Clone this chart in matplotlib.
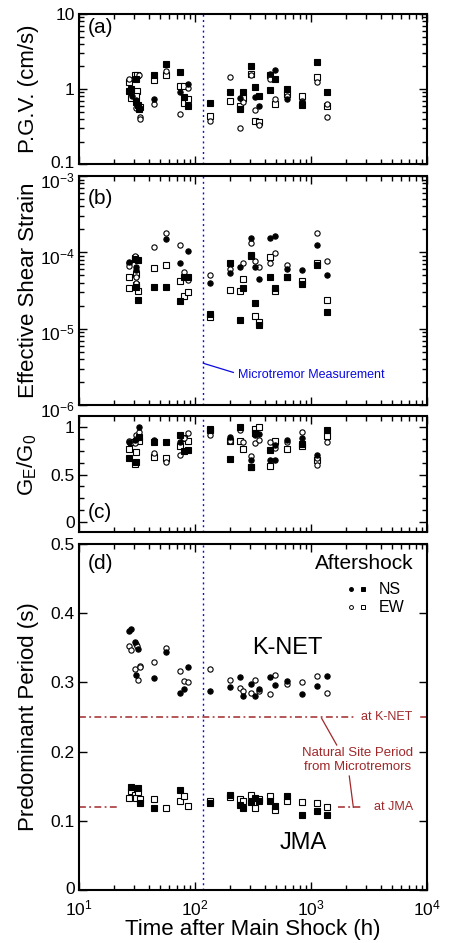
import numpy as np
import matplotlib
matplotlib.use("Agg")
import matplotlib.pyplot as plt
import matplotlib.transforms as mtransforms
from matplotlib.ticker import LogLocator, MultipleLocator, FixedLocator, NullFormatter, NullLocator

plt.rcParams['font.family'] = ['Liberation Sans', 'DejaVu Sans']
plt.rcParams['mathtext.fontset'] = 'custom'
plt.rcParams['mathtext.rm'] = 'Liberation Sans'
plt.rcParams['mathtext.it'] = 'Liberation Sans:italic'
plt.rcParams['mathtext.default'] = 'regular'

# (time after main shock [h], value)
# panel (a) P.G.V. (cm/s)
pgv_knet_ns = [(28.9, 0.81), (31.3, 0.72), (44.1, 0.73), (73.8, 0.91), (87.7, 1.18),
               (245, 0.77), (330, 0.78), (357, 0.60), (444, 1.60), (487, 1.81),
               (618, 0.73), (842, 0.68)]
pgv_knet_ew = [(27.1, 1.36), (32.9, 1.52), (30.9, 0.56), (33.5, 0.42), (33.5, 0.40),
               (44.1, 0.63), (56.7, 1.76), (73.8, 0.46), (87.7, 1.03), (134.6, 0.38),
               (198.6, 1.45), (245, 0.30), (260, 0.67), (303, 1.52), (330, 0.53),
               (357, 0.33), (444, 1.38), (487, 0.73), (618, 0.81), (842, 0.70),
               (1126, 1.23), (1373, 0.63), (1373, 0.43)]
pgv_jma_ns = [(27.1, 0.95), (28.0, 1.01), (30.9, 1.38), (31.3, 0.68), (32.4, 0.62),
              (33.0, 0.55), (44.1, 1.56), (56.7, 2.18), (73.8, 1.69), (80.4, 0.78),
              (87.7, 0.60), (134.6, 0.65), (198.6, 0.91), (245, 0.55), (260, 0.90),
              (303, 2.05), (330, 1.08), (357, 0.81), (444, 0.96), (487, 1.38),
              (618, 1.01), (842, 0.62), (1126, 2.28), (1373, 0.91)]
pgv_jma_ew = [(27.1, 1.23), (28.0, 0.76), (30.3, 1.52), (31.9, 1.52), (31.9, 0.93),
              (31.3, 0.80), (33.5, 0.57), (44.1, 1.31), (56.7, 1.56), (73.8, 1.11),
              (80.4, 0.65), (80.4, 1.10), (87.7, 0.73), (134.6, 0.44), (198.6, 0.70),
              (245, 0.60), (260, 0.76), (303, 1.59), (330, 0.38), (357, 0.36),
              (444, 1.52), (487, 0.63), (618, 0.86), (842, 0.82), (1126, 1.43),
              (1373, 0.59)]

# panel (b) effective shear strain (x 1e-4)
strain_knet_ns = [(27.1, 0.74), (31.3, 0.65), (31.3, 0.58), (56.7, 1.49), (73.8, 0.72),
                  (87.7, 1.03), (134.6, 0.40), (198.6, 0.54), (245, 0.64), (303, 1.53),
                  (330, 0.64), (357, 0.45), (444, 1.52), (487, 1.63), (618, 0.61),
                  (842, 0.58), (1126, 1.26), (1373, 0.51)]
strain_knet_ew = [(27.1, 0.72), (27.1, 0.67), (30.3, 0.91), (31.3, 0.48), (31.3, 0.40),
                  (44.1, 1.16), (56.7, 1.78), (73.8, 1.26), (80.4, 0.55), (87.7, 0.44),
                  (134.6, 0.50), (198.6, 0.61), (260, 0.72), (303, 1.31), (330, 0.78),
                  (357, 0.65), (444, 0.73), (487, 0.98), (618, 0.69), (1126, 1.81),
                  (1373, 0.76)]
strain_jma_ns = [(30.3, 0.81), (32.4, 0.80), (31.3, 0.35), (32.4, 0.24), (44.1, 0.35),
                 (56.7, 0.35), (73.8, 0.23), (80.4, 0.48), (87.7, 0.48), (134.6, 0.157),
                 (198.6, 0.73), (245, 0.13), (260, 0.34), (303, 0.91), (330, 0.215),
                 (357, 0.112), (444, 0.48), (487, 0.34), (618, 0.47), (842, 0.38),
                 (1126, 0.69), (1373, 0.165)]
strain_jma_ew = [(27.1, 0.48), (27.1, 0.34), (30.3, 0.84), (31.3, 0.52), (31.3, 0.37),
                 (32.4, 0.31), (44.1, 0.63), (56.7, 0.68), (73.8, 0.42), (80.4, 0.27),
                 (87.7, 0.30), (134.6, 0.142), (198.6, 0.32), (245, 0.31), (260, 0.45),
                 (303, 0.92), (330, 0.147), (357, 0.124), (444, 0.86), (487, 0.31),
                 (618, 0.48), (842, 0.42), (1126, 0.72), (1373, 0.24)]

# panel (c) G_E/G_0
ratio_knet_ns = [(27.1, 0.85), (30.3, 0.87), (33.0, 1.0), (44.1, 0.87), (73.8, 0.84),
                 (198.6, 0.90), (303, 0.65), (330, 0.92), (357, 0.93), (444, 0.65),
                 (487, 0.81), (487, 0.65), (618, 0.87), (842, 0.89), (1126, 0.71)]
ratio_knet_ew = [(27.1, 0.86), (30.3, 0.63), (30.3, 0.83), (31.3, 0.92), (31.3, 0.88),
                 (33.0, 0.95), (44.1, 0.73), (56.7, 0.63), (73.8, 0.71), (80.4, 0.89),
                 (87.7, 0.94), (134.6, 0.92), (198.6, 0.86), (245, 0.97), (260, 0.85),
                 (303, 0.70), (330, 0.83), (357, 0.87), (444, 0.84), (487, 0.78),
                 (618, 0.84), (842, 0.95), (1126, 0.68), (1126, 0.60), (1373, 0.84)]
ratio_jma_ns = [(27.1, 0.68), (31.3, 0.63), (33.0, 0.90), (44.1, 0.84), (56.7, 0.84),
                (73.8, 0.92), (80.4, 0.75), (87.7, 0.76), (134.6, 0.97), (198.6, 0.66),
                (245, 1.0), (303, 0.58), (330, 0.94), (444, 0.76), (842, 0.82),
                (1373, 0.97)]
ratio_jma_ew = [(27.1, 0.77), (28.0, 0.85), (30.3, 0.61), (31.3, 0.74), (33.0, 0.855),
                (44.1, 0.69), (56.7, 0.68), (73.8, 0.80), (80.4, 0.89), (87.7, 0.86),
                (134.6, 0.98), (198.6, 0.855), (245, 0.86), (260, 0.77), (303, 0.58),
                (330, 0.98), (357, 1.0), (444, 0.59), (487, 0.86), (618, 0.77),
                (842, 0.80), (1126, 0.65), (1373, 0.91)]

# panel (d) predominant period (s)
period_knet_ns = [(27.1, 0.3745), (27.8, 0.377), (30.3, 0.358), (31.3, 0.311), (32.4, 0.349),
                  (44.1, 0.306), (56.7, 0.344), (73.8, 0.285), (80.4, 0.290), (87.7, 0.322),
                  (134.6, 0.287), (198.6, 0.293), (245, 0.308), (260, 0.280), (303, 0.297),
                  (330, 0.281), (357, 0.290), (444, 0.308), (487, 0.296), (618, 0.302),
                  (842, 0.283), (1126, 0.295), (1373, 0.309)]
period_knet_ew = [(27.1, 0.353), (27.8, 0.347), (30.3, 0.319), (31.3, 0.355), (31.9, 0.353),
                  (32.4, 0.304), (33.5, 0.323), (33.5, 0.322), (44.1, 0.329), (56.7, 0.350),
                  (73.8, 0.317), (80.4, 0.302), (87.7, 0.301), (134.6, 0.320), (198.6, 0.303),
                  (245, 0.292), (260, 0.287), (303, 0.284), (330, 0.304), (357, 0.287),
                  (444, 0.283), (487, 0.311), (618, 0.298), (842, 0.301), (1126, 0.309),
                  (1373, 0.284)]
period_jma_ns = [(27.8, 0.1495), (32.4, 0.1476), (33.5, 0.126), (44.1, 0.118), (73.8, 0.145),
                 (134.6, 0.1255), (198.6, 0.138), (245, 0.1235), (260, 0.119), (303, 0.127),
                 (330, 0.133), (357, 0.129), (444, 0.129), (487, 0.1207), (618, 0.1365),
                 (842, 0.109), (1126, 0.114), (1373, 0.1086)]
period_jma_ew = [(27.1, 0.1327), (27.8, 0.1437), (30.3, 0.1375), (30.9, 0.1336), (32.4, 0.1413),
                 (33.5, 0.1317), (44.1, 0.132), (56.7, 0.118), (73.8, 0.128), (80.4, 0.1356),
                 (87.7, 0.121), (134.6, 0.129), (198.6, 0.135), (245, 0.132), (260, 0.129),
                 (303, 0.138), (330, 0.118), (357, 0.132), (444, 0.1365), (487, 0.115),
                 (618, 0.129), (842, 0.127), (1126, 0.1255), (1373, 0.120)]

t_microtremor = 118          # time of microtremor measurement (h)
site_period_knet = 0.25
site_period_jma = 0.12

red = '#a0282a'
blue = '#0a0ae0'
dashdot = (0, (4.5, 2.2, 1.2, 2.2))

fig = plt.figure(figsize=(4.5, 9.43), dpi=100)
left, width = 79 / 450, 348 / 450
ax_a = fig.add_axes([left, 0.8260, width, 0.1591])
ax_b = fig.add_axes([left, 0.5705, width, 0.2428])
ax_c = fig.add_axes([left, 0.4358, width, 0.1230])
ax_d = fig.add_axes([left, 0.0562, width, 0.3669])
axes = [ax_a, ax_b, ax_c, ax_d]


def scatter4(ax, knet_ns, knet_ew, jma_ns, jma_ew, scale=1.0):
    for pts, mk, fc in [(jma_ew, 's', 'white'), (knet_ew, 'o', 'white'),
                        (jma_ns, 's', 'black'), (knet_ns, 'o', 'black')]:
        t, v = zip(*pts)
        ms = 4.0 if mk == 's' else 3.8
        ax.plot(t, np.array(v) * scale, ls='none', marker=mk, ms=ms, mfc=fc,
                mec='black', mew=0.8, zorder=3)


scatter4(ax_a, pgv_knet_ns, pgv_knet_ew, pgv_jma_ns, pgv_jma_ew)
scatter4(ax_b, strain_knet_ns, strain_knet_ew, strain_jma_ns, strain_jma_ew, scale=1e-4)
scatter4(ax_c, ratio_knet_ns, ratio_knet_ew, ratio_jma_ns, ratio_jma_ew)
scatter4(ax_d, period_knet_ns, period_knet_ew, period_jma_ns, period_jma_ew)

for ax in axes:
    ax.set_xscale('log')
    ax.set_xlim(10, 1e4)
    ax.xaxis.set_major_locator(LogLocator(base=10, numticks=10))
    ax.xaxis.set_minor_locator(LogLocator(base=10, subs=np.arange(2, 10), numticks=20))
    ax.xaxis.set_minor_formatter(NullFormatter())
    ax.axvline(t_microtremor, color=blue, lw=1.0, ls=(0, (1.4, 2.4)), zorder=2)
    ax.tick_params(which='both', direction='in', top=True, right=True,
                   labelsize=12.5, width=1.0, pad=3)
    ax.tick_params(which='major', length=6)
    ax.tick_params(which='minor', length=3.5)
    for s in ax.spines.values():
        s.set_linewidth(1.5)
    if ax is not ax_d:
        ax.set_xticklabels([])

# (a)
ax_a.set_yscale('log')
ax_a.set_ylim(0.1, 10)
ax_a.yaxis.set_major_locator(FixedLocator([0.1, 1, 10]))
ax_a.set_yticklabels(['0.1', '1', '10'])
ax_a.yaxis.set_minor_locator(LogLocator(base=10, subs=np.arange(2, 10), numticks=20))
ax_a.yaxis.set_minor_formatter(NullFormatter())
ax_a.set_ylabel('P.G.V. (cm/s)', fontsize=16)

# (b)
ax_b.set_yscale('log')
ax_b.set_ylim(1e-6, 1e-3)
ax_b.yaxis.set_major_locator(FixedLocator([1e-6, 1e-5, 1e-4, 1e-3]))
ax_b.set_yticklabels(['$10^{-6}$', '$10^{-5}$', '$10^{-4}$', '$10^{-3}$'])
ax_b.yaxis.set_minor_locator(LogLocator(base=10, subs=np.arange(2, 10), numticks=20))
ax_b.yaxis.set_minor_formatter(NullFormatter())
ax_b.set_ylabel('Effective Shear Strain', fontsize=16)
ax_b.plot([t_microtremor, 214], [10 ** -5.453, 10 ** -5.573], color=blue, lw=0.9)
ax_b.text(235, 10 ** -5.608, 'Microtremor Measurement', color=blue, fontsize=9,
          va='center', ha='left')

# (c)
ax_c.set_ylim(-0.11, 1.12)
ax_c.yaxis.set_major_locator(FixedLocator([0, 0.5, 1]))
ax_c.set_yticklabels(['0', '0.5', '1'])
ax_c.yaxis.set_minor_locator(MultipleLocator(0.125))
ax_c.set_ylabel('G$_E$/G$_0$', fontsize=16)

# (d)
ax_d.set_ylim(0, 0.5)
ax_d.yaxis.set_major_locator(FixedLocator([0, 0.1, 0.2, 0.3, 0.4, 0.5]))
ax_d.set_yticklabels(['0', '0.1', '0.2', '0.3', '0.4', '0.5'])
ax_d.yaxis.set_minor_locator(NullLocator())
ax_d.set_xticks([10, 100, 1000, 10000])
ax_d.set_xticklabels(['$10^{1}$', '$10^{2}$', '$10^{3}$', '$10^{4}$'])
ax_d.tick_params(axis='x', pad=6)
ax_d.set_ylabel('Predominant Period (s)', fontsize=16)
ax_d.set_xlabel('Time after Main Shock (h)', fontsize=16, labelpad=0.5)

# natural site period lines
ax_d.plot([10, 2355], [site_period_knet] * 2, color=red, lw=1.1, ls=dashdot)
ax_d.plot([8800, 1e4], [site_period_knet] * 2, color=red, lw=1.1)
ax_d.plot([10, 22.5], [site_period_jma] * 2, color=red, lw=1.1, ls=dashdot)
ax_d.plot([1694, 2780], [site_period_jma] * 2, color=red, lw=1.1, ls=dashdot)
ax_d.text(4470, site_period_knet, 'at K-NET', color=red, fontsize=9, ha='center', va='center')
ax_d.text(5100, site_period_jma, 'at JMA', color=red, fontsize=9, ha='center', va='center')
ax_d.text(2518, 0.188, 'Natural Site Period\nfrom Microtremors', color=red, fontsize=9.5,
          ha='center', va='center', linespacing=1.25)
ax_d.plot([1666, 1236], [0.2095, 0.248], color=red, lw=0.9)
ax_d.plot([2138, 2317], [0.1647, 0.1195], color=red, lw=0.9)

ax_d.text(0.60, 0.70, 'K-NET', transform=ax_d.transAxes, fontsize=17, ha='center', va='center')
ax_d.text(0.644, 0.136, 'JMA', transform=ax_d.transAxes, fontsize=17, ha='center', va='center')
ax_d.text(0.96, 0.945, 'Aftershock', transform=ax_d.transAxes, fontsize=15, ha='right', va='center')

# legend
for yy, fc, lab in [(0.869, 'black', 'NS'), (0.817, 'white', 'EW')]:
    ax_d.plot([0.782], [yy], transform=ax_d.transAxes, marker='o', ms=2.8, mfc=fc,
              mec='black', mew=0.7, ls='none')
    ax_d.plot([0.817], [yy], transform=ax_d.transAxes, marker='s', ms=3.0, mfc=fc,
              mec='black', mew=0.7, ls='none')
    ax_d.text(0.862, yy, lab, transform=ax_d.transAxes, fontsize=11.5, va='center', ha='left')

# panel letters
ax_a.text(0.026, 0.913, '(a)', transform=ax_a.transAxes, fontsize=15, va='center')
ax_b.text(0.026, 0.90, '(b)', transform=ax_b.transAxes, fontsize=15, va='center')
ax_c.text(0.026, 0.172, '(c)', transform=ax_c.transAxes, fontsize=15, va='center')
ax_d.text(0.026, 0.945, '(d)', transform=ax_d.transAxes, fontsize=15, va='center')

for ax in axes:
    ax.yaxis.set_label_coords(-0.115, 0.5)
ax_c.yaxis.set_label_coords(-0.115, 0.58)

# nudge tick labels: power-of-ten labels sit a little below their tick,
# the bottom labels of panels (a) and (d) a little above
down = mtransforms.ScaledTranslation(0, -3.5 / 100, fig.dpi_scale_trans)
up = mtransforms.ScaledTranslation(0, 2.0 / 100, fig.dpi_scale_trans)
for lab in ax_b.get_yticklabels():
    lab.set_transform(lab.get_transform() + down)
for ax in (ax_a, ax_d):
    lab = ax.get_yticklabels()[0]
    lab.set_transform(lab.get_transform() + up)

fig.savefig('out.png', dpi=100)
